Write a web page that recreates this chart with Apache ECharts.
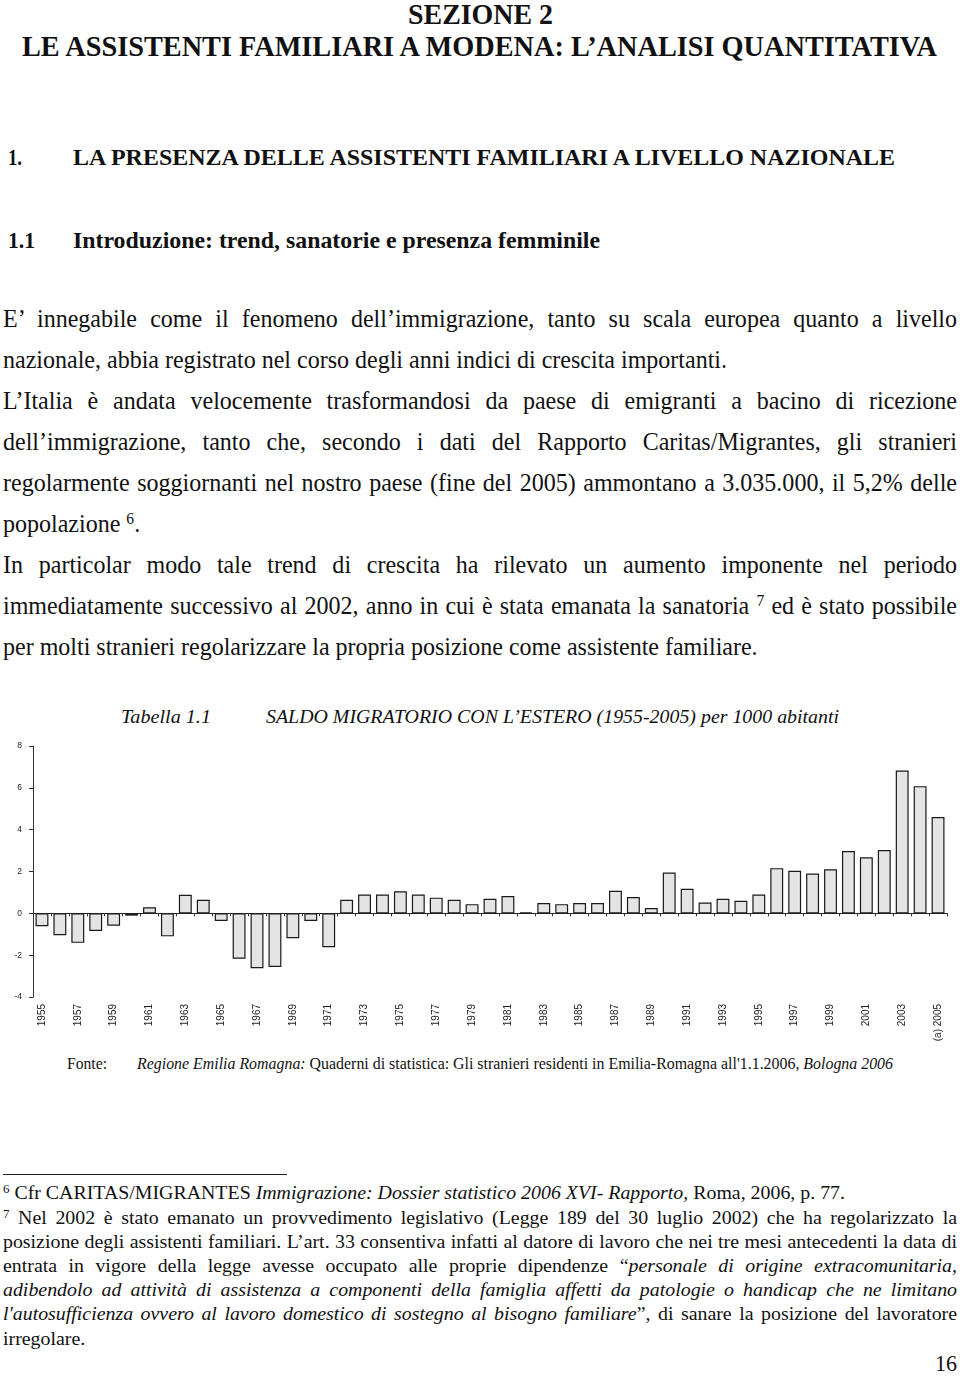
<!DOCTYPE html>
<html>
<head>
<meta charset="utf-8">
<script src="https://cdn.jsdelivr.net/npm/echarts@6/dist/echarts.min.js"></script>
<style>
body{margin:0;width:960px;height:1379px;position:relative;overflow:hidden;background:#fff;
  font-family:"Liberation Serif","Times New Roman",serif;color:#111}
.ln{position:absolute;white-space:nowrap;line-height:1;transform-origin:0 0}
.b{font-weight:bold}
.i{font-style:italic}
sup{font-size:0.65em;vertical-align:0;position:relative;top:-0.5em}
#chart{position:absolute;left:0;top:730px;width:960px;height:320px}
#rule{position:absolute;left:3px;top:1174px;width:284px;height:1px;background:#222}
</style>
</head>
<body>
<div id="chart"></div>
<div id="rule"></div>
<script>
// saldo migratorio con l'estero per 1000 abitanti, 1955-2005
var years = ['1955','1956','1957','1958','1959','1960','1961','1962','1963','1964',
  '1965','1966','1967','1968','1969','1970','1971','1972','1973','1974',
  '1975','1976','1977','1978','1979','1980','1981','1982','1983','1984',
  '1985','1986','1987','1988','1989','1990','1991','1992','1993','1994',
  '1995','1996','1997','1998','1999','2000','2001','2002','2003','2004','(a) 2005'];
var saldo = [-0.62, -1.05, -1.41, -0.84, -0.59, -0.11, 0.29, -1.10, 0.89, 0.65,
  -0.37, -2.17, -2.62, -2.56, -1.19, -0.37, -1.62, 0.65, 0.90, 0.90,
  1.05, 0.90, 0.75, 0.65, 0.44, 0.70, 0.83, 0.05, 0.49, 0.44,
  0.49, 0.49, 1.08, 0.78, 0.25, 1.95, 1.17, 0.52, 0.70, 0.60,
  0.90, 2.16, 2.03, 1.90, 2.11, 2.98, 2.68, 3.03, 6.83, 6.08, 4.60];
var yTicks = [-4, 8, 2]; // min, max, interval

var chart = echarts.init(document.getElementById('chart'));
var option = {
  animation: false,
  grid: { left: 33, right: 13, top: 16, height: 251 },
  xAxis: [
    {
      type: 'category',
      data: years,
      axisLine: { onZero: true, lineStyle: { color: '#222', width: 1 } },
      axisTick: { show: true, length: 3, interval: 0, lineStyle: { color: '#333' } },
      axisLabel: { show: false }
    },
    {
      type: 'category',
      data: years,
      position: 'bottom',
      axisLine: { show: false, onZero: false },
      axisTick: { show: false },
      axisLabel: {
        rotate: 90, interval: 1, margin: 7,
        fontSize: 10, color: '#222', fontFamily: 'Liberation Sans, Arial, sans-serif'
      }
    }
  ],
  yAxis: {
    type: 'value',
    min: yTicks[0],
    max: yTicks[1],
    interval: yTicks[2],
    axisLine: { show: true, lineStyle: { color: '#333', width: 1 } },
    axisTick: { show: true, length: 4, lineStyle: { color: '#333' } },
    splitLine: { show: false },
    axisLabel: { fontSize: 8.5, color: '#222', margin: 11, fontFamily: 'Liberation Sans, Arial, sans-serif' }
  },
  series: [
    {
      type: 'bar',
      data: saldo,
      xAxisIndex: 0,
      barCategoryGap: '28%',
      itemStyle: { color: '#e4e4e4', borderColor: '#1a1a1a', borderWidth: 1.2 }
    }
  ]
};
chart.setOption(option);

// page text, line by line
function addLine(html, x, base, fs, cls) {
  var d = document.createElement('div');
  d.className = 'ln ' + (cls || '');
  d.innerHTML = html;
  d.style.left = x + 'px';
  d.style.top = (base - 0.84 * fs) + 'px';
  d.style.fontSize = fs + 'px';
  document.body.appendChild(d);
  return d;
}
function natural(d) { return d.getBoundingClientRect().width; }
function fitTo(d, w) { d.style.transform = 'scaleX(' + (w / natural(d)) + ')'; }
function justifyTo(d, w, k) {
  var n = natural(d);
  if (n * k > w - 1) { fitTo(d, w); return; }
  d.style.whiteSpace = 'normal';
  d.style.width = (w / k) + 'px';
  d.style.textAlign = 'justify';
  d.style.textAlignLast = 'justify';
  d.style.transform = 'scaleX(' + k + ')';
}

// headings
fitTo(addLine('SEZIONE 2', 408, 24, 30, 'b'), 145);
fitTo(addLine('LE ASSISTENTI FAMILIARI A MODENA: L’ANALISI QUANTITATIVA', 22, 56, 30, 'b'), 915);
fitTo(addLine('1.', 8, 165, 23, 'b'), 14);
fitTo(addLine('LA PRESENZA DELLE ASSISTENTI FAMILIARI A LIVELLO NAZIONALE', 73, 165, 23, 'b'), 822);
fitTo(addLine('1.1', 8, 248, 23, 'b'), 27);
fitTo(addLine('Introduzione: trend, sanatorie e presenza femminile', 73, 248, 23, 'b'), 527);

// body paragraph
var body = [
  ['E’ innegabile come il fenomeno dell’immigrazione, tanto su scala europea quanto a livello', 1],
  ['nazionale, abbia registrato nel corso degli anni indici di crescita importanti.', 0],
  ['L’Italia è andata velocemente trasformandosi da paese di emigranti a bacino di ricezione', 1],
  ['dell’immigrazione, tanto che, secondo i dati del Rapporto Caritas/Migrantes, gli stranieri', 1],
  ['regolarmente soggiornanti nel nostro paese (fine del 2005) ammontano a 3.035.000, il 5,2% delle', 1],
  ['popolazione <sup>6</sup>.', 0],
  ['In particolar modo tale trend di crescita ha rilevato un aumento imponente nel periodo', 1],
  ['immediatamente successivo al 2002, anno in cui è stata emanata la sanatoria <sup>7</sup> ed è stato possibile', 1],
  ['per molti stranieri regolarizzare la propria posizione come assistente familiare.', 0]
];
var bodyEls = body.map(function (l, i) { return addLine(l[0], 3, 328 + 41 * i, 26, ''); });
var kBody = 724 / natural(bodyEls[1]);
bodyEls.forEach(function (d, i) {
  if (body[i][1]) justifyTo(d, 954, kBody);
  else d.style.transform = 'scaleX(' + kBody + ')';
});

// table caption
fitTo(addLine('Tabella 1.1', 121, 723, 18, 'i'), 90);
fitTo(addLine('SALDO MIGRATORIO CON L’ESTERO (1955-2005) per 1000 abitanti', 266, 723, 18, 'i'), 573);

// source
fitTo(addLine('Fonte:', 67, 1070, 16.5, ''), 40);
fitTo(addLine('<i>Regione Emilia Romagna:</i> Quaderni di statistica: Gli stranieri residenti in Emilia-Romagna all\'1.1.2006, <i>Bologna 2006</i>', 137, 1070, 16.5, ''), 756);

// footnotes
var notes = [
  ['<sup>6</sup> Cfr CARITAS/MIGRANTES <i>Immigrazione: Dossier statistico 2006 XVI- Rapporto,</i> Roma, 2006, p. 77.', 0],
  ['<sup>7</sup> Nel 2002 è stato emanato un provvedimento legislativo (Legge 189 del 30 luglio 2002) che ha regolarizzato la', 1],
  ['posizione degli assistenti familiari. L’art. 33 consentiva infatti al datore di lavoro che nei tre mesi antecedenti la data di', 1],
  ['entrata in vigore della legge avesse occupato alle proprie dipendenze “<i>personale di origine extracomunitaria,</i>', 1],
  ['<i>adibendolo ad attività di assistenza a componenti della famiglia affetti da patologie o handicap che ne limitano</i>', 1],
  ['<i>l\'autosufficienza ovvero al lavoro domestico di sostegno al bisogno familiare</i>”, di sanare la posizione del lavoratore', 1],
  ['irregolare.', 0]
];
var noteEls = notes.map(function (l, i) { return addLine(l[0], 3, 1200 + 24.2 * i, 18.5, ''); });
var kNote = 842 / natural(noteEls[0]);
noteEls.forEach(function (d, i) {
  if (notes[i][1]) justifyTo(d, 954, kNote);
  else d.style.transform = 'scaleX(' + kNote + ')';
});

// page number
fitTo(addLine('16', 935, 1371, 24, ''), 22);
</script>
</body>
</html>
